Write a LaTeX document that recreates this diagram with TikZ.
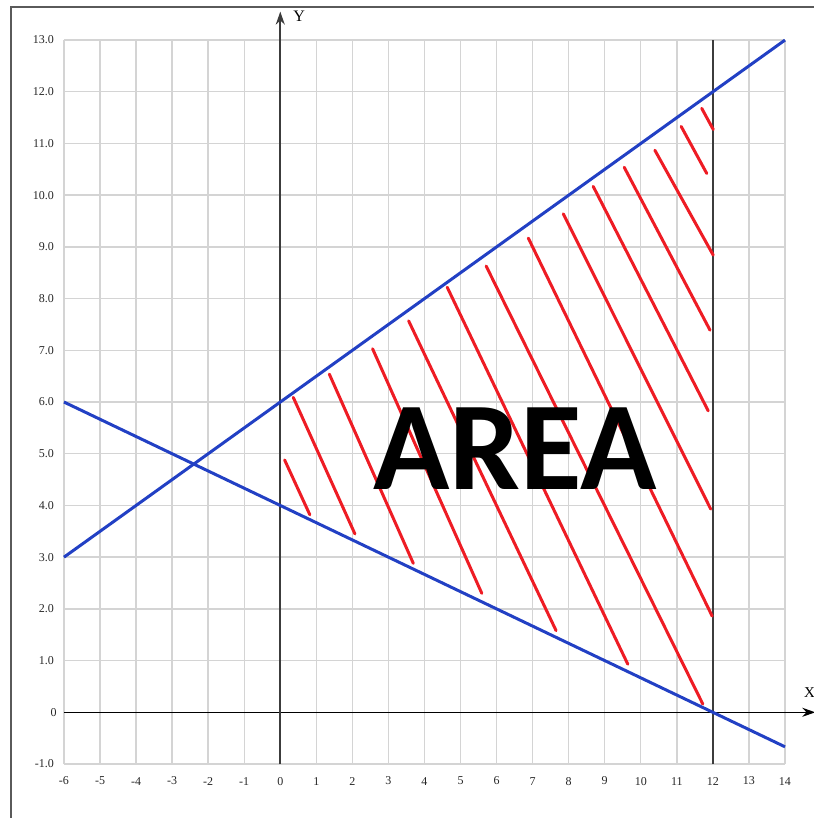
\documentclass[tikz,border=0pt]{standalone}
\usepackage{fontspec}
\setmainfont{Liberation Serif}
\newfontfamily\areafont{Carlito}
\usetikzlibrary{arrows.meta}
\definecolor{gridgray}{RGB}{212,212,212}
\definecolor{lineblue}{RGB}{34,64,196}
\definecolor{hatchred}{RGB}{238,28,36}
\definecolor{framegray}{RGB}{90,90,90}
\definecolor{axisgray}{RGB}{60,60,60}
\begin{document}
\begin{tikzpicture}[x=36.05pt, y=51.71pt, >={Stealth[length=13pt,width=9pt]},
  tick/.style={inner sep=0pt, font=\fontsize{12}{12}\selectfont, text=black!85},
  hatch/.style={hatchred, line width=3pt, line cap=round},
  border/.style={lineblue, line width=3pt}]
\useasboundingbox (-7.775,-2.044) rectangle (14.804,13.775);
\draw[framegray, line width=2pt] (-7.47,-3) -- (-7.47,13.645) -- (16,13.645);
\foreach \x in {-6,...,14} \draw[gridgray, line width=1.4pt] (\x,-1) -- (\x,13);
\foreach \y in {-1,...,13} \draw[gridgray, line width=1.4pt] (-6,\y) -- (14,\y);

% axes
\coordinate (xs) at (-6,0);
\coordinate (xe) at (14.84,0);
\coordinate (ys) at (0,-1);
\coordinate (ye) at (0,13.55);
\draw[->, black, line width=1.5pt] (xs) -- (xe);
\draw[->, axisgray, line width=1.6pt] (ys) -- (ye);
\draw[axisgray, line width=1.8pt] (12,-1) -- (12,13);
\node[font=\fontsize{16}{16}\selectfont] (ylab) at (0.52,13.465) {Y};
\node[font=\fontsize{15}{15}\selectfont] (xlab) at (14.68,0.373) {X};

\foreach \v [count=\i] in {-6,...,14}
  \node[tick] (xt\i) at (\v,-1.33) {\v};
\foreach \v [count=\i] in {-1,1,2,...,13}
  \node[tick, anchor=east] (yt\i) at (-6.277,\v) {\v.0};
\node[tick, anchor=east] (yt0) at (-6.2,0) {0};

% bounding lines
\draw[border] (-6,3) -- (14,13);
\draw[border] (-6,6) -- (14,-0.667);

% hatching
\foreach \a/\b/\c/\d in {0.12/4.88/0.82/3.82, 0.36/6.09/2.07/3.45,
  1.36/6.54/3.69/2.88, 2.56/7.03/5.59/2.30, 3.56/7.57/7.65/1.58,
  4.63/8.22/9.64/0.93, 5.71/8.63/11.72/0.16, 6.88/9.17/11.98/1.86,
  7.85/9.64/11.94/3.93, 8.68/10.17/11.87/5.83, 9.54/10.54/11.92/7.39,
  10.39/10.87/12.01/8.84, 11.12/11.33/11.83/10.42, 11.69/11.68/12.01/11.27}
  \draw[hatch] (\a,\b) -- (\c,\d);

\node[anchor=base, inner sep=0pt, font=\areafont\bfseries\fontsize{126}{126}\selectfont] (area) at (6.52,4.30) {AREA};
\end{tikzpicture}
\end{document}
